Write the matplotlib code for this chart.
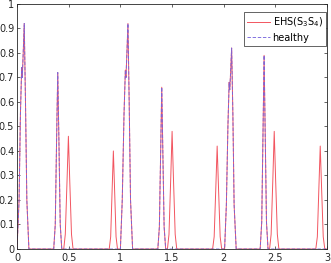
import matplotlib
matplotlib.use('Agg')
import matplotlib.pyplot as plt

# healthy envelope: S1 (double hump) and S2
healthy_t = [0.0, 0.02, 0.033, 0.045, 0.051, 0.06, 0.07, 0.082, 0.095, 0.115,
             0.355, 0.37, 0.383, 0.394, 0.405, 0.418, 0.433,
             1.0, 1.018, 1.035, 1.048, 1.054, 1.063, 1.073, 1.085, 1.098, 1.118,
             1.362, 1.377, 1.39, 1.40, 1.41, 1.423, 1.438,
             2.008, 2.025, 2.04, 2.052, 2.058, 2.066, 2.076, 2.088, 2.1, 2.12,
             2.352, 2.367, 2.38, 2.39, 2.40, 2.413, 2.428,
             3.0]
healthy_y = [0, 0.2, 0.55, 0.74, 0.70, 0.80, 0.92, 0.6, 0.2, 0,
             0, 0.1, 0.45, 0.72, 0.45, 0.1, 0,
             0, 0.2, 0.55, 0.73, 0.70, 0.80, 0.92, 0.6, 0.2, 0,
             0, 0.09, 0.41, 0.66, 0.41, 0.09, 0,
             0, 0.18, 0.5, 0.68, 0.65, 0.72, 0.82, 0.55, 0.18, 0,
             0, 0.11, 0.49, 0.79, 0.49, 0.11, 0,
             0]

# extra heart sounds S3 / S4 (only in the EHS curve)
extra_t = [0.452, 0.467, 0.484, 0.497, 0.51, 0.527, 0.542,
           0.892, 0.906, 0.92, 0.932, 0.944, 0.958, 0.972,
           1.455, 1.47, 1.487, 1.50, 1.513, 1.53, 1.545,
           1.892, 1.907, 1.923, 1.936, 1.949, 1.965, 1.98,
           2.443, 2.458, 2.475, 2.488, 2.501, 2.518, 2.533,
           2.89, 2.905, 2.92, 2.933, 2.946, 2.962, 2.977]
extra_y = [0, 0.06, 0.28, 0.46, 0.28, 0.06, 0,
           0, 0.05, 0.24, 0.40, 0.24, 0.05, 0,
           0, 0.06, 0.29, 0.48, 0.29, 0.06, 0,
           0, 0.05, 0.25, 0.42, 0.25, 0.05, 0,
           0, 0.06, 0.29, 0.48, 0.29, 0.06, 0,
           0, 0.05, 0.25, 0.42, 0.25, 0.05, 0]

x_ticks = [0, 0.5, 1, 1.5, 2, 2.5, 3]
x_labels = ['0', '0.5', '1', '1.5', '2', '2.5', '3']
y_ticks = [0, 0.1, 0.2, 0.3, 0.4, 0.5, 0.6, 0.7, 0.8, 0.9, 1]
y_labels = ['0', '0.1', '0.2', '0.3', '0.4', '0.5', '0.6', '0.7', '0.8', '0.9', '1']

# EHS = healthy + extra sounds (they never overlap)
ehs = sorted(zip(healthy_t + extra_t, healthy_y + extra_y))
ehs_t = [p[0] for p in ehs]
ehs_y = [p[1] for p in ehs]

fig = plt.figure(figsize=(3.31, 2.63), dpi=100)
ax = fig.add_axes([0.0514, 0.0532, 0.937, 0.932])

ax.plot(ehs_t, ehs_y, color='#f25560', lw=0.7, label='EHS(S$_3$S$_4$)')
ax.plot(healthy_t, healthy_y, color='#7563dc', lw=0.7, ls='--', dashes=(3.5, 1.8),
        alpha=0.9, label='healthy')

ax.set_xlim(0, 3)
ax.set_ylim(0, 1)
ax.set_xticks(x_ticks)
ax.set_xticklabels(x_labels)
ax.set_yticks(y_ticks)
ax.set_yticklabels(y_labels)
ax.tick_params(direction='in', length=2.5, width=0.5, labelsize=7, top=True, right=True,
               colors='#262626')
ax.tick_params(axis='x', pad=3)
ax.tick_params(axis='y', pad=2)
for s in ax.spines.values():
    s.set_linewidth(0.6)
    s.set_color('#262626')

leg = ax.legend(loc='upper right', bbox_to_anchor=(0.997, 0.965), fontsize=7,
                frameon=True, fancybox=False, framealpha=1,
                edgecolor='#262626', handlelength=2.3, borderaxespad=0,
                borderpad=0.35, labelspacing=0.35, handletextpad=0.3)
leg.get_frame().set_linewidth(0.5)

fig.savefig('out.png', dpi=100)
